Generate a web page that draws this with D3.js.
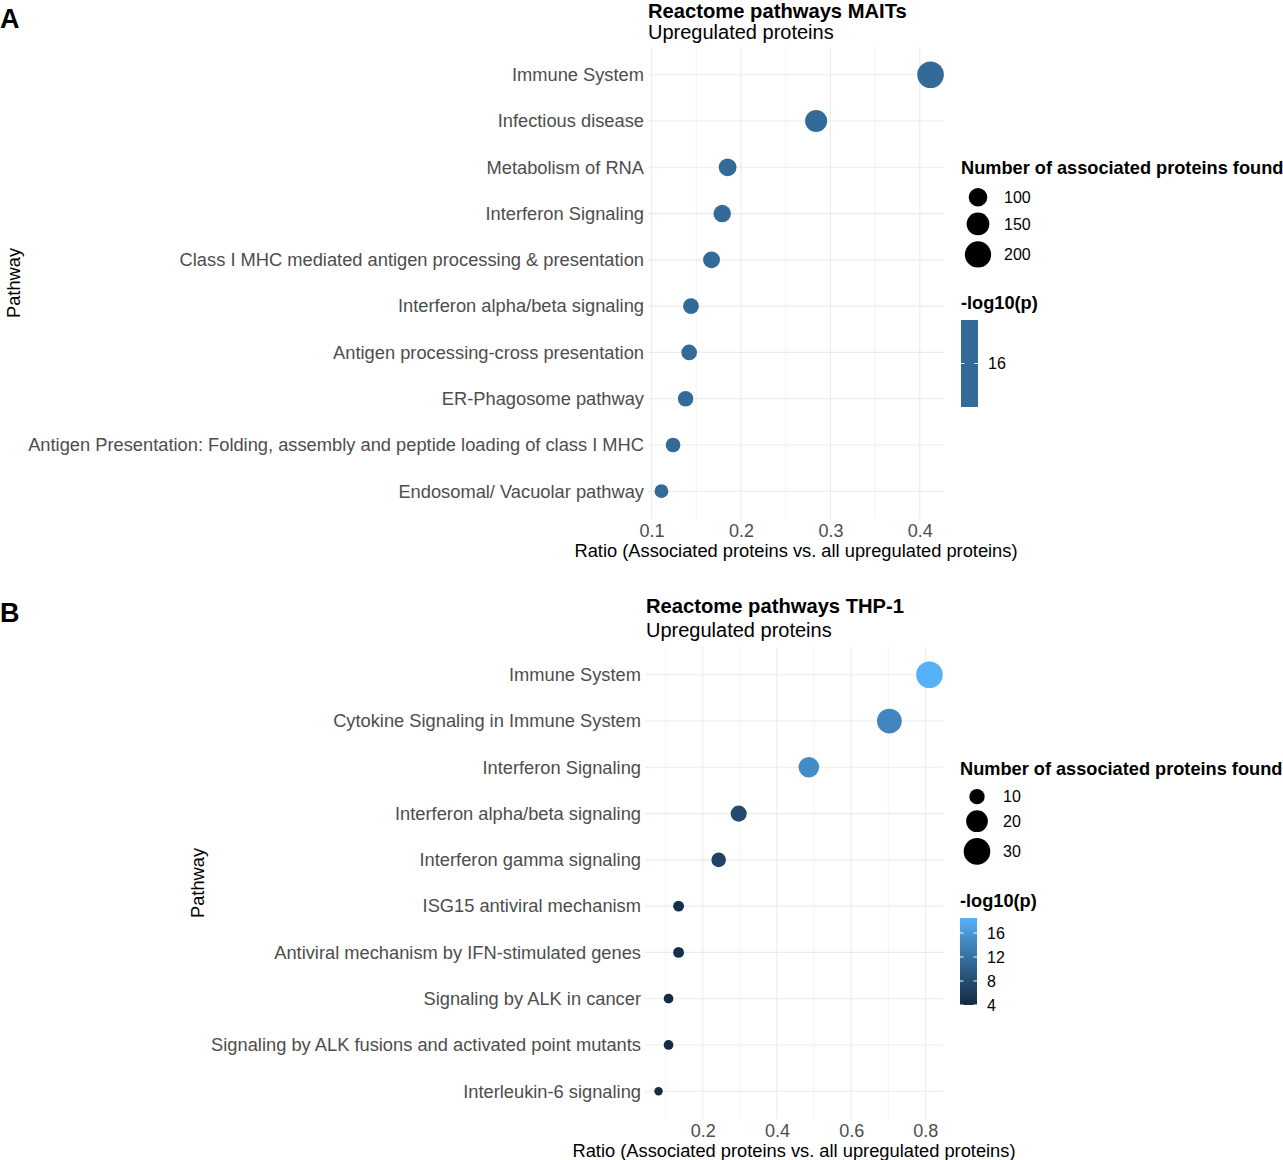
<!DOCTYPE html>
<html>
<head>
<meta charset="utf-8">
<script src="https://cdn.jsdelivr.net/npm/d3@7"></script>
<style>
  html, body { margin: 0; padding: 0; background: #fff; }
  svg { display: block; }
  text { font-family: "Liberation Sans", Arial, sans-serif; }
</style>
</head>
<body>
<svg id="chart" width="1283" height="1160"></svg>
<script>
// ---------------- DATA ----------------
// Panel A: Reactome pathways MAITs
const pathwaysA = [
  "Immune System",
  "Infectious disease",
  "Metabolism of RNA",
  "Interferon Signaling",
  "Class I MHC mediated antigen processing & presentation",
  "Interferon alpha/beta signaling",
  "Antigen processing-cross presentation",
  "ER-Phagosome pathway",
  "Antigen Presentation: Folding, assembly and peptide loading of class I MHC",
  "Endosomal/ Vacuolar pathway"
];
const ratioA = [0.412, 0.284, 0.185, 0.179, 0.167, 0.144, 0.142, 0.138, 0.124, 0.111];
const countA = [205, 141, 92, 89, 83, 72, 71, 69, 62, 55];
const logpA  = [15.95, 15.95, 15.95, 15.95, 15.95, 15.95, 15.95, 15.95, 15.95, 15.95];
const xTicksA = [0.1, 0.2, 0.3, 0.4];
const sizeBreaksA = [100, 150, 200];
const colorTicksA = [16];

// Panel B: Reactome pathways THP-1
const pathwaysB = [
  "Immune System",
  "Cytokine Signaling in Immune System",
  "Interferon Signaling",
  "Interferon alpha/beta signaling",
  "Interferon gamma signaling",
  "ISG15 antiviral mechanism",
  "Antiviral mechanism by IFN-stimulated genes",
  "Signaling by ALK in cancer",
  "Signaling by ALK fusions and activated point mutants",
  "Interleukin-6 signaling"
];
const ratioB = [0.811, 0.703, 0.486, 0.297, 0.243, 0.135, 0.135, 0.108, 0.108, 0.081];
const countB = [30, 26, 18, 11, 9, 5, 5, 4, 4, 3];
const logpB  = [18.5, 14.2, 14.8, 7.8, 6.9, 4.6, 4.6, 4.0, 4.0, 4.2];
const xTicksB = [0.2, 0.4, 0.6, 0.8];
const sizeBreaksB = [10, 20, 30];
const colorTicksB = [4, 8, 12, 16];

// ---------------- DRAWING ----------------
const svg = d3.select("#chart");
const GRID = "#ebebeb";
const AXIS_TXT = "#4d4d4d";
const lowC = "#132B43", highC = "#56B1F7";
let gradId = 0;

function drawPanel(cfg) {
  const g = svg.append("g");
  const { left, right, top, bottom } = cfg.panel;

  // x scale with 5% expansion (ggplot default)
  const ext = d3.extent(cfg.ratio);
  const pad = (ext[1] - ext[0]) * 0.05;
  const x = d3.scaleLinear().domain([ext[0] - pad, ext[1] + pad]).range([left, right]);
  const y = d3.scalePoint().domain(cfg.pathways).range([top, bottom]).padding(0.6);
  const r = d3.scaleSqrt().domain([0, d3.max(cfg.count)]).range([0, 13.3]);

  const cext = d3.extent(cfg.logp);
  const flat = cext[0] === cext[1];
  const cdom = flat ? [cext[0] - 1, cext[1] + 1] : cext;
  const color = d3.scaleSequential(d3.interpolateLab(lowC, highC)).domain(cdom);

  // grid: minor vertical
  const dom = x.domain();
  const step = cfg.xTicks[1] - cfg.xTicks[0];
  const minors = [];
  for (let i = -1; i < cfg.xTicks.length; i++) {
    const v = (i < 0 ? cfg.xTicks[0] - step / 2 : cfg.xTicks[i] + step / 2);
    if (v > dom[0] && v < dom[1]) minors.push(v);
  }
  g.selectAll(".minor").data(minors).join("line")
    .attr("x1", d => x(d)).attr("x2", d => x(d))
    .attr("y1", top).attr("y2", bottom)
    .attr("stroke", GRID).attr("stroke-width", 0.6);
  // major vertical
  g.selectAll(".vmajor").data(cfg.xTicks).join("line")
    .attr("x1", d => x(d)).attr("x2", d => x(d))
    .attr("y1", top).attr("y2", bottom)
    .attr("stroke", GRID).attr("stroke-width", 1.1);
  // major horizontal
  g.selectAll(".hmajor").data(cfg.pathways).join("line")
    .attr("x1", left).attr("x2", right)
    .attr("y1", d => y(d)).attr("y2", d => y(d))
    .attr("stroke", GRID).attr("stroke-width", 1.1);

  // y axis labels
  const yAxis = d3.axisLeft(y).tickSize(0).tickPadding(4);
  const ya = g.append("g").attr("transform", `translate(${left},0)`).call(yAxis);
  ya.select(".domain").remove();
  ya.selectAll("text").attr("fill", AXIS_TXT).style("font-size", "18.3px")
    .style("font-family", '"Liberation Sans", Arial, sans-serif');

  // x axis labels
  const xAxis = d3.axisBottom(x).tickValues(cfg.xTicks).tickSize(0).tickPadding(5)
    .tickFormat(d3.format(".1f"));
  const xa = g.append("g").attr("transform", `translate(0,${bottom})`).call(xAxis);
  xa.select(".domain").remove();
  xa.selectAll("text").attr("fill", AXIS_TXT).style("font-size", "18px")
    .style("font-family", '"Liberation Sans", Arial, sans-serif');

  // points
  g.selectAll(".pt").data(cfg.pathways).join("circle")
    .attr("cx", (d, i) => x(cfg.ratio[i]))
    .attr("cy", d => y(d))
    .attr("r", (d, i) => r(cfg.count[i]))
    .attr("fill", (d, i) => color(cfg.logp[i]));

  // axis titles
  g.append("text").attr("x", (left + right) / 2).attr("y", bottom + 38)
    .attr("text-anchor", "middle").attr("fill", "#000").style("font-size", "18.3px")
    .text("Ratio (Associated proteins vs. all upregulated proteins)");
  g.append("text")
    .attr("transform", `translate(${cfg.yTitleX},${(top + bottom) / 2}) rotate(-90)`)
    .attr("text-anchor", "middle").attr("fill", "#000").style("font-size", "18.3px")
    .text("Pathway");

  // titles
  g.append("text").attr("x", cfg.titleX).attr("y", cfg.titleY)
    .attr("fill", "#000").style("font-size", "20.2px").style("font-weight", "bold")
    .text(cfg.title);
  g.append("text").attr("x", cfg.titleX).attr("y", cfg.subY)
    .attr("fill", "#000").style("font-size", "20px")
    .text("Upregulated proteins");

  // panel letter
  g.append("text").attr("x", 0).attr("y", cfg.letterY)
    .attr("fill", "#000").style("font-size", "27px").style("font-weight", "bold")
    .text(cfg.letter);

  // size legend
  const L = cfg.legend;
  g.append("text").attr("x", L.x).attr("y", L.sizeTitleY).attr("dy", "0.35em")
    .attr("fill", "#000").style("font-size", "18.2px").style("font-weight", "bold")
    .text("Number of associated proteins found");
  let cy = L.sizeTitleY + 17;
  cfg.sizeBreaks.forEach((b, i) => {
    const rr = r(b);
    const h = 2 * rr + 6;
    const c = cy + h / 2;
    g.append("circle").attr("cx", L.x + 17).attr("cy", c).attr("r", rr).attr("fill", "#000");
    g.append("text").attr("x", L.x + 43).attr("y", c).attr("dy", "0.35em")
      .attr("fill", "#000").style("font-size", "16px").text(b);
    cy += h;
  });

  // colour legend
  g.append("text").attr("x", L.x).attr("y", L.colTitleY).attr("dy", "0.35em")
    .attr("fill", "#000").style("font-size", "18.2px").style("font-weight", "bold")
    .text("-log10(p)");
  const bw = 17, bTop = L.barTop, bBot = L.barTop + 87;
  let barFill;
  if (flat) {
    barFill = color(cext[0]);
  } else {
    const id = "grad" + (gradId++);
    const grad = svg.append("defs").append("linearGradient").attr("id", id)
      .attr("x1", 0).attr("y1", 1).attr("x2", 0).attr("y2", 0);
    d3.range(0, 1.0001, 0.05).forEach(t => {
      grad.append("stop").attr("offset", t)
        .attr("stop-color", color(cdom[0] + t * (cdom[1] - cdom[0])));
    });
    barFill = `url(#${id})`;
  }
  g.append("rect").attr("x", L.x).attr("y", bTop).attr("width", bw).attr("height", bBot - bTop)
    .attr("fill", barFill);
  const cy2 = flat
    ? (() => (bTop + bBot) / 2)
    : d3.scaleLinear().domain(cdom).range([bBot, bTop]);
  cfg.colorTicks.forEach(t => {
    const yy = cy2(t);
    g.append("line").attr("x1", L.x).attr("x2", L.x + 3.5).attr("y1", yy).attr("y2", yy)
      .attr("stroke", "#fff").attr("stroke-width", 1);
    g.append("line").attr("x1", L.x + bw - 3.5).attr("x2", L.x + bw).attr("y1", yy).attr("y2", yy)
      .attr("stroke", "#fff").attr("stroke-width", 1);
    g.append("text").attr("x", L.x + bw + 10).attr("y", yy).attr("dy", "0.35em")
      .attr("fill", "#000").style("font-size", "16px").text(t);
  });
}

drawPanel({
  letter: "A", letterY: 28,
  title: "Reactome pathways MAITs", titleX: 648, titleY: 18, subY: 39,
  pathways: pathwaysA, ratio: ratioA, count: countA, logp: logpA,
  xTicks: xTicksA, sizeBreaks: sizeBreaksA, colorTicks: colorTicksA,
  panel: { left: 648, right: 944, top: 47, bottom: 519 },
  yTitleX: 20,
  legend: { x: 961, sizeTitleY: 168, colTitleY: 303, barTop: 320 }
});

drawPanel({
  letter: "B", letterY: 622,
  title: "Reactome pathways THP-1", titleX: 646, titleY: 613, subY: 637,
  pathways: pathwaysB, ratio: ratioB, count: countB, logp: logpB,
  xTicks: xTicksB, sizeBreaks: sizeBreaksB, colorTicks: colorTicksB,
  panel: { left: 645, right: 943, top: 647, bottom: 1119 },
  yTitleX: 204,
  legend: { x: 960, sizeTitleY: 769, colTitleY: 901, barTop: 918 }
});
</script>
</body>
</html>
